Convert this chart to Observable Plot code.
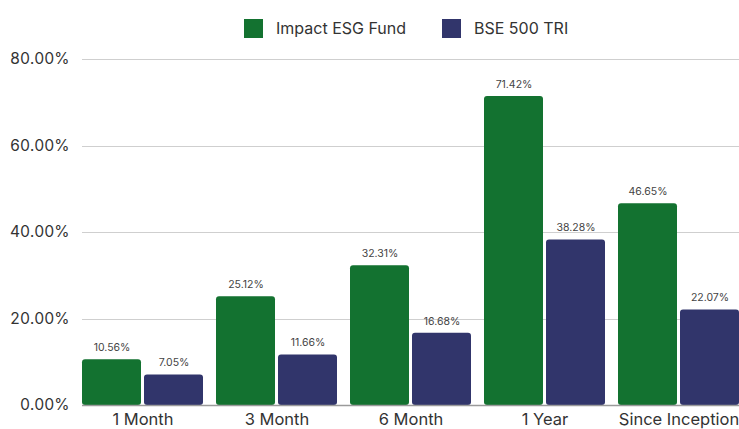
<!DOCTYPE html>
<html>
<head>
<meta charset="utf-8">
<script src="https://cdn.jsdelivr.net/npm/d3@7"></script>
<script src="https://cdn.jsdelivr.net/npm/@observablehq/plot@0.6"></script>
<style>
  html, body { margin: 0; padding: 0; background: #fff; }
  body { width: 739px; height: 429px; overflow: hidden; font-family: Inter, "Open Sans", sans-serif; }
  .legend { height: 45px; position: relative; font-size: 16px; color: #333; }
  .legend .item { position: absolute; top: 18px; display: flex; align-items: center; }
  .legend .sw { width: 19px; height: 19px; margin-right: 13px; }
</style>
</head>
<body>
<div class="legend" id="legend"></div>
<div id="chart"></div>
<script>
const periods = ["1 Month", "3 Month", "6 Month", "1 Year", "Since Inception"];
const seriesNames = ["Impact ESG Fund", "BSE 500 TRI"];
const fundValues = [10.56, 25.12, 32.31, 71.42, 46.65];
const indexValues = [7.05, 11.66, 16.68, 38.28, 22.07];
const yTicks = [0, 20, 40, 60, 80];
const colors = ["#137230", "#31356b"];

const data = [];
periods.forEach((p, i) => {
  data.push({period: p, series: seriesNames[0], value: fundValues[i]});
  data.push({period: p, series: seriesNames[1], value: indexValues[i]});
});

// legend
const legend = document.getElementById("legend");
const legendX = [244, 442];
seriesNames.forEach((s, i) => {
  const d = document.createElement("div");
  d.className = "item";
  d.style.left = legendX[i] + "px";
  d.innerHTML = `<span class="sw" style="background:${colors[i]}"></span><span>${s}</span>`;
  legend.appendChild(d);
});

// full-width horizontal lines drawn with the plot's own y scale
function hLines(values, stroke, width) {
  return Plot.frame({
    facet: "super",
    render: (index, scales, channels, dim) => {
      const g = d3.create("svg:g");
      values.forEach(v => {
        const y = Math.round(scales.y(v)) + 0.5;
        g.append("line")
          .attr("x1", dim.marginLeft)
          .attr("x2", dim.width - dim.marginRight)
          .attr("y1", y).attr("y2", y)
          .attr("stroke", stroke)
          .attr("stroke-width", width);
      });
      return g.node();
    }
  });
}

const chart = Plot.plot({
  width: 739,
  height: 384,
  marginTop: 14,
  marginBottom: 24,
  marginLeft: 81,
  marginRight: 0,
  style: {fontFamily: "Inter, 'Open Sans', sans-serif", fontSize: "15px", color: "#333", background: "#fff"},
  fx: {domain: periods, paddingInner: 0.1, paddingOuter: 0, label: null, axis: null},
  x: {domain: seriesNames, paddingInner: 0.05, paddingOuter: 0, axis: null},
  y: {domain: [0, 80], ticks: yTicks, label: null},
  color: {domain: seriesNames, range: colors},
  marks: [
    hLines(yTicks.slice(1), "#cfcfcf", 1),
    Plot.axisY({ticks: yTicks, tickSize: 0, tickPadding: 13, tickFormat: d => d.toFixed(2) + "%", label: null, fontSize: 15.5}),
    Plot.axisFx({anchor: "bottom", tickSize: 0, tickPadding: 8, label: null, fontSize: 16.5}),
    Plot.barY(data, {fx: "period", x: "series", y: "value", fill: "series", rx: 3}),
    hLines([0], "#9a9a9a", 1.5),
    Plot.text(data, {fx: "period", x: "series", y: "value", text: d => d.value.toFixed(2) + "%", dy: -12, fontSize: 10.5, fill: "#444"})
  ]
});
document.getElementById("chart").appendChild(chart);
</script>
</body>
</html>
